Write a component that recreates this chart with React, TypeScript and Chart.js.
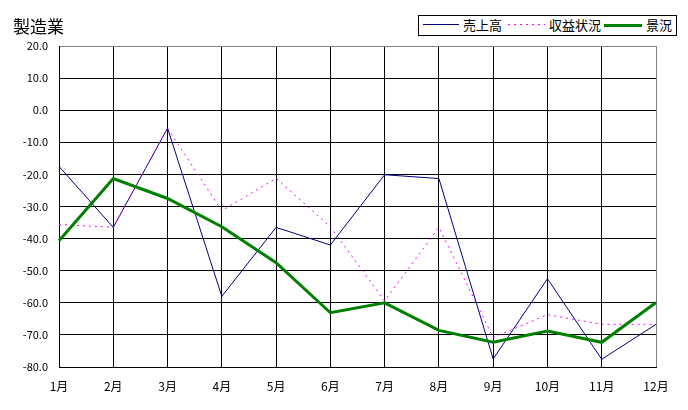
import React, { useEffect, useRef } from "react";
import { Chart, registerables } from "chart.js";

Chart.register(...registerables);

const months = ["1月", "2月", "3月", "4月", "5月", "6月", "7月", "8月", "9月", "10月", "11月", "12月"];
const sales = [-17.5, -36.5, -5.6, -58.0, -36.5, -42.0, -20.1, -21.3, -77.5, -52.5, -77.6, -66.7];
const profit = [-35.6, -36.5, -5.6, -31.3, -21.2, -36.3, -59.4, -36.5, -70.8, -63.7, -66.7, -66.7];
const business = [-40.7, -21.3, -27.5, -36.3, -47.5, -63.1, -60.0, -68.6, -72.3, -68.8, -72.3, -59.9];
const yMin = -80;
const yMax = 20;
const yStep = 10;
const title = "製造業";
const seriesNames = ["売上高", "収益状況", "景況"];

const FONT = "'Noto Sans CJK JP', 'DejaVu Sans', sans-serif";

export default function App() {
  const ref = useRef<HTMLCanvasElement | null>(null);

  useEffect(() => {
    document.body.style.margin = "0";
    const canvas = ref.current;
    if (!canvas) return;
    const chart = new Chart(canvas, {
      type: "line",
      data: {
        labels: months,
        datasets: [
          {
            label: seriesNames[0],
            data: sales,
            borderColor: "#000080",
            borderWidth: 1,
            pointRadius: 0,
            tension: 0,
            fill: false,
            order: 3,
          },
          {
            label: seriesNames[1],
            data: profit,
            borderColor: "#FF00FF",
            borderWidth: 1,
            borderDash: [2, 4],
            pointRadius: 0,
            tension: 0,
            fill: false,
            order: 2,
          },
          {
            label: seriesNames[2],
            data: business,
            borderColor: "#008000",
            borderWidth: 3,
            pointRadius: 0,
            tension: 0,
            fill: false,
            order: 1,
          },
        ],
      },
      options: {
        animation: false,
        responsive: false,
        maintainAspectRatio: false,
        layout: { padding: { left: 0, top: 46, right: 32, bottom: 0 } },
        plugins: {
          legend: { display: false },
          tooltip: { enabled: false },
          title: { display: false },
        },
        scales: {
          x: {
            type: "category",
            offset: false,
            grid: {
              drawTicks: false,
              color: (ctx: any) => (ctx.index === months.length - 1 ? "#808080" : "#000000"),
              lineWidth: 1,
            },
            border: { display: true, color: "#000000", width: 1 },
            ticks: {
              color: "#000000",
              font: { family: FONT, size: 12 },
              padding: 12,
              maxRotation: 0,
              autoSkip: false,
            },
            afterFit: (s: any) => {
              s.height = 43;
              s.paddingLeft = 0;
              s.paddingRight = 0;
            },
          },
          y: {
            type: "linear",
            min: yMin,
            max: yMax,
            grid: {
              drawTicks: false,
              color: (ctx: any) => (ctx.tick && ctx.tick.value === yMax ? "#808080" : "#000000"),
              lineWidth: 1,
            },
            border: { display: true, color: "#000000", width: 1 },
            ticks: {
              stepSize: yStep,
              color: "#000000",
              font: { family: FONT, size: 11 },
              padding: 11,
              callback: (v: any) => Number(v).toFixed(1),
            },
            afterFit: (s: any) => {
              s.width = 59;
              s.paddingTop = 0;
              s.paddingBottom = 0;
            },
          },
        },
      },
    });
    return () => chart.destroy();
  }, []);

  const textStyle: React.CSSProperties = {
    position: "absolute",
    fontFamily: FONT,
    fontSize: 13,
    lineHeight: "14px",
    top: 18,
    whiteSpace: "nowrap",
    color: "#000",
  };
  const lineStyle = (left: number, width: number, border: string): React.CSSProperties => ({
    position: "absolute",
    left,
    width,
    top: 24,
    height: 0,
    borderTop: border,
  });

  return (
    <div style={{ position: "fixed", left: 0, top: 0, width: 688, height: 410, background: "#fff" }}>
      <canvas ref={ref} width={688} height={410} style={{ position: "absolute", left: 0, top: 0, width: 688, height: 410 }} />
      <div
        style={{
          position: "absolute",
          left: 13,
          top: 17,
          fontFamily: FONT,
          fontSize: 17,
          lineHeight: "18px",
          color: "#000",
        }}
      >
        {title}
      </div>
      <div
        style={{
          position: "absolute",
          left: 418,
          top: 15,
          width: 257,
          height: 19,
          border: "1px solid #000",
          background: "#fff",
        }}
      />
      <div style={lineStyle(423, 36, "1px solid #000080")} />
      <div style={{ ...textStyle, left: 463 }}>{seriesNames[0]}</div>
      <div
        style={{
          position: "absolute",
          left: 508,
          width: 37,
          top: 24,
          height: 1,
          background: "repeating-linear-gradient(to right, #FF00FF 0px, #FF00FF 2px, transparent 2px, transparent 6px)",
        }}
      />
      <div style={{ ...textStyle, left: 549 }}>{seriesNames[1]}</div>
      <div style={lineStyle(604, 38, "3px solid #008000")} />
      <div style={{ ...textStyle, left: 646 }}>{seriesNames[2]}</div>
    </div>
  );
}
